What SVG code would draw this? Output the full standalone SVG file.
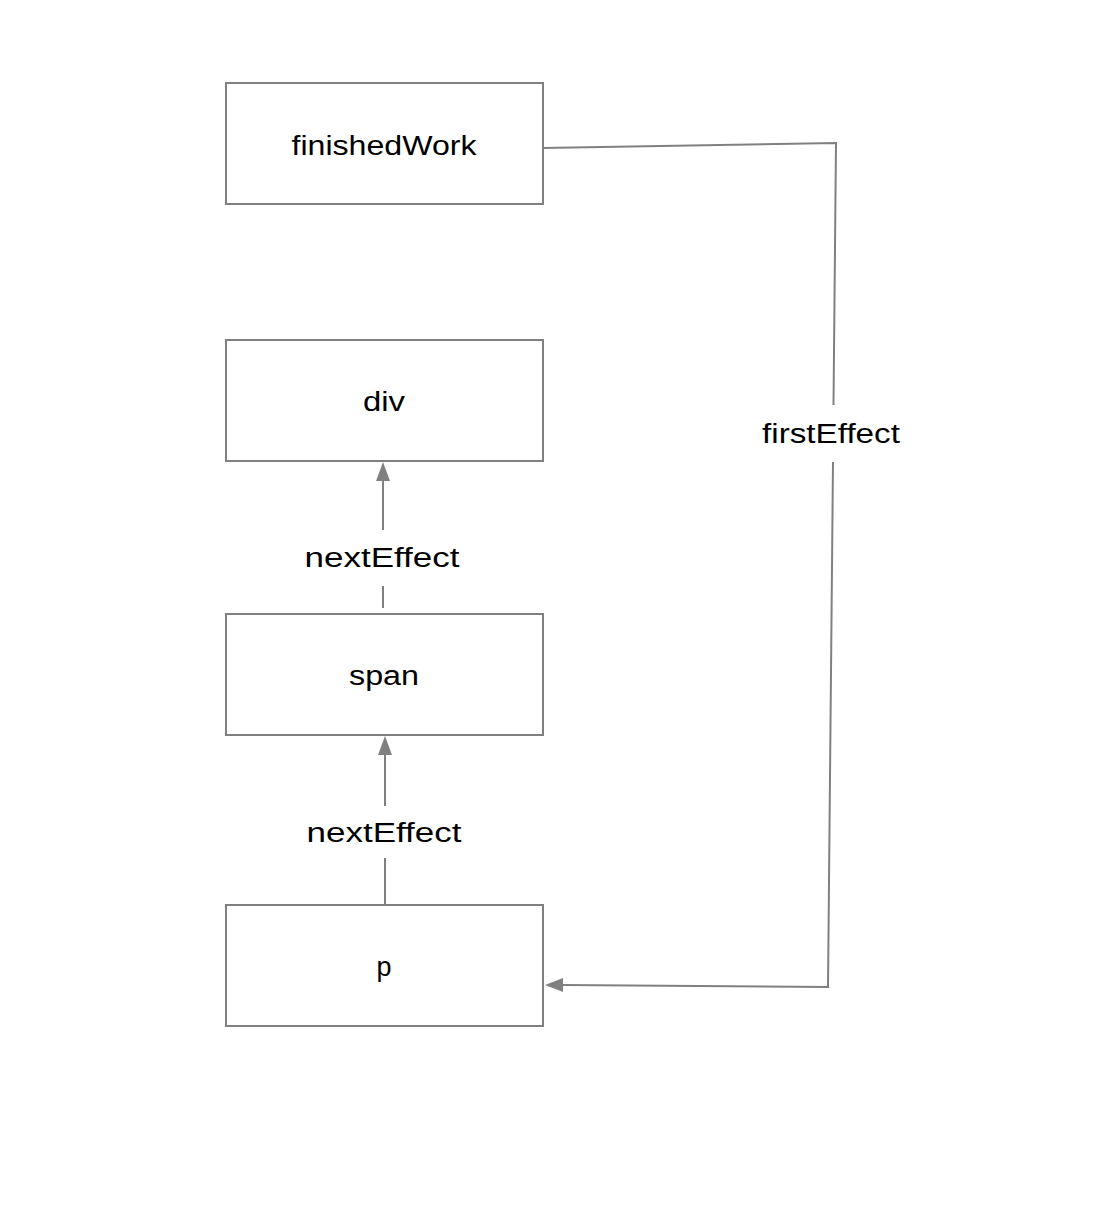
<svg xmlns="http://www.w3.org/2000/svg" width="1120" height="1206" viewBox="0 0 1120 1206">
<style>
.box{fill:#fff;stroke:#808080;stroke-width:2}
.t{font-family:"Liberation Sans",Arial,sans-serif;font-size:27px;fill:#000;text-anchor:middle}
.c{fill:none;stroke:#808080;stroke-width:2}
.ah{fill:#808080}
</style>
<rect width="1120" height="1206" fill="#fff"/>
<g id="connectors">
<path class="c" d="M543,148 L836,143 L833.5,405"/>
<path class="c" d="M833,462 L828,987 L563,985"/>
<path class="ah" d="M545,985 L563,978 L563,992 z"/>
<line class="c" x1="383" y1="608" x2="383" y2="586"/>
<line class="c" x1="383" y1="530" x2="383" y2="480"/>
<path class="ah" d="M383,462 L376,481 L390,481 z"/>
<line class="c" x1="385" y1="905" x2="385" y2="858"/>
<line class="c" x1="385" y1="806" x2="385" y2="754"/>
<path class="ah" d="M385,736 L378,755 L392,755 z"/>
<text class="t" x="831" y="443" textLength="138" lengthAdjust="spacingAndGlyphs">firstEffect</text>
<text class="t" x="382" y="567" textLength="155" lengthAdjust="spacingAndGlyphs">nextEffect</text>
<text class="t" x="384" y="842" textLength="155" lengthAdjust="spacingAndGlyphs">nextEffect</text>
</g>
<g id="finishedWork">
<rect class="box" x="226" y="83" width="317" height="121"/>
<text class="t" x="384" y="155" textLength="185" lengthAdjust="spacingAndGlyphs">finishedWork</text>
</g>
<g id="div">
<rect class="box" x="226" y="340" width="317" height="121"/>
<text class="t" x="384" y="411" textLength="42" lengthAdjust="spacingAndGlyphs">div</text>
</g>
<g id="span">
<rect class="box" x="226" y="614" width="317" height="121"/>
<text class="t" x="384" y="685" textLength="70" lengthAdjust="spacingAndGlyphs">span</text>
</g>
<g id="p">
<rect class="box" x="226" y="905" width="317" height="121"/>
<text class="t" x="384" y="976">p</text>
</g>
</svg>
